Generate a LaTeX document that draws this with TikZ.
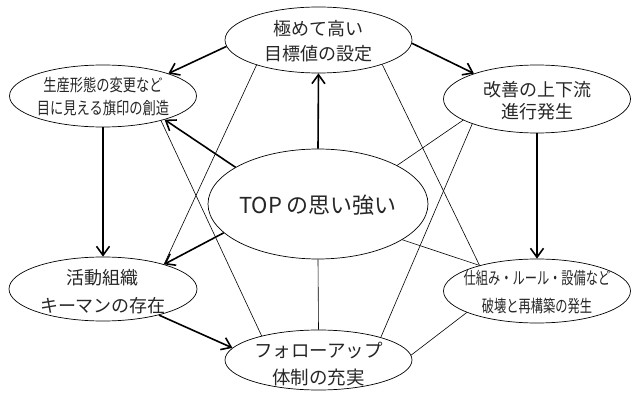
\documentclass[tikz,border=0pt]{standalone}
\usepackage{fontspec}
\setmainfont{Noto Sans CJK JP}
\newfontfamily\lucond[FakeStretch=0.78]{Noto Sans CJK JP}
\newfontfamily\rlcond[FakeStretch=0.72]{Noto Sans CJK JP}
\usetikzlibrary{shapes.geometric,arrows.meta}
\begin{document}
\begin{tikzpicture}[x=1pt,y=-1pt,
  ell/.style={draw, ellipse, line width=0.7pt, inner sep=0pt},
  txt/.style={align=center, text=black!85, inner sep=0pt},
  thk/.style={line width=1.6pt, -{Straight Barb[length=9pt,width=13pt]}},
  thn/.style={line width=0.6pt}]
\useasboundingbox (0,0) rectangle (633,393);
% ellipses
\node[ell, minimum width=187pt, minimum height=66pt] (tp) at (318.5,40) {};
\node[ell, minimum width=187pt, minimum height=62pt] (lu) at (103,96) {};
\node[ell, minimum width=187pt, minimum height=68pt] (ru) at (537,99) {};
\node[ell, minimum width=220pt, minimum height=110pt] (c) at (318,204) {};
\node[ell, minimum width=188pt, minimum height=64pt] (ll) at (103,289) {};
\node[ell, minimum width=187pt, minimum height=64pt] (rl) at (537,291) {};
\node[ell, minimum width=187pt, minimum height=60pt] (b) at (318.5,360) {};
% texts
\node[txt, font=\fontsize{18}{25}\selectfont] (tpt) at (318.5,41) {極めて高い\\目標値の設定};
\node[txt, font=\lucond\fontsize{17}{23}\selectfont] (lut) at (103,97) {生産形態の変更など\\目に見える旗印の創造};
\node[txt, font=\fontsize{18}{22}\selectfont] (rut) at (537,101) {改善の上下流\\進行発生};
\node[txt, font=\fontsize{22}{26}\selectfont] (ct) at (318,205) {TOP\hspace{5pt}の思い強い};
\node[txt, font=\fontsize{18}{28}\selectfont] (llt) at (103,292) {活動組織\\キーマンの存在};
\node[txt, font=\rlcond\fontsize{17}{28}\selectfont] (rlt) at (537,292) {仕組み・ルール・設備など\\破壊と再構築の発生};
\node[txt, font=\fontsize{18.5}{27}\selectfont] (bt) at (318.5,364) {フォローアップ\\体制の充実};
% thick arrows
\draw[thk] (tp.184) -- (lu.19);
\draw[thk] (tp.358) -- (ru.158.6);
\draw[thk] (c.90) -- (tp.270);
\draw[thk] (c.156) -- (lu.339.6);
\draw[thk] (c.197) -- (ll.22);
\draw[thk] (lu.270) -- (ll.90);
\draw[thk] (ru.270) -- (rl.90);
\draw[thk] (ll.335) -- (b.172);
% thin lines
\draw[thn] (tp.202) -- (ll.22);
\draw[thn] (tp.339) -- (rl.156);
\draw[thn] (lu.337) -- (b.157.5);
\draw[thn] (ru.201) -- (b.20);
\draw[thn] (ru.196) -- (c.26);
\draw[thn] (c.337.5) -- (rl.156);
\draw[thn] (c.270) -- (b.90);
\draw[thn] (rl.197.5) -- (b.3);
\end{tikzpicture}
\end{document}
